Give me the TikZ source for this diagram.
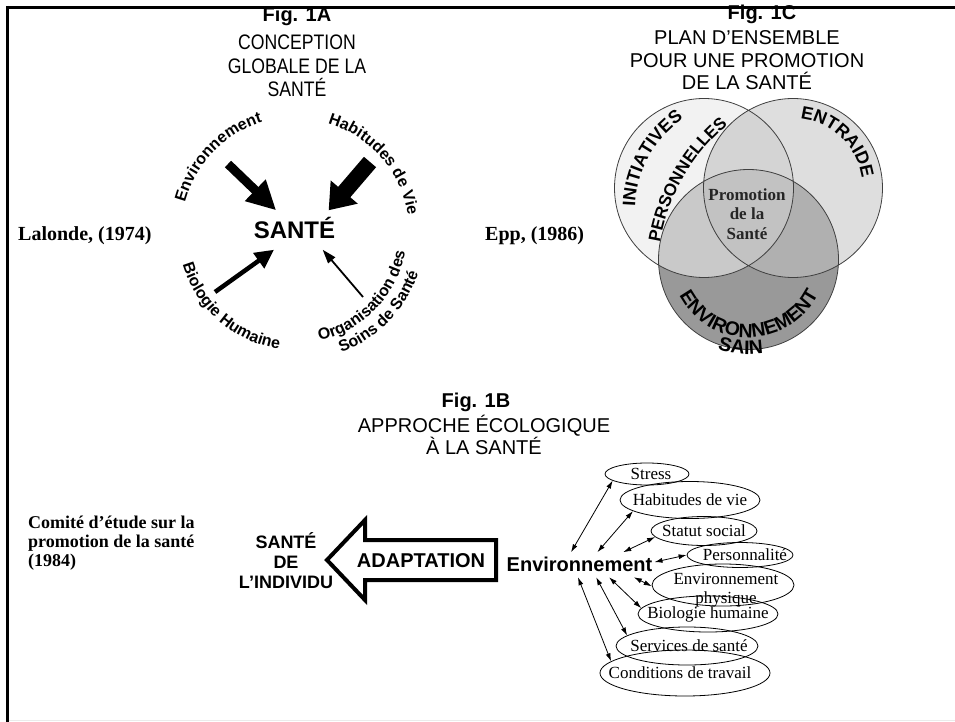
\documentclass[tikz,border=0pt]{standalone}
\usepackage{fontspec}
\setmainfont{Liberation Serif}
\setsansfont{Liberation Sans}
\newfontfamily\narrowsf[FakeStretch=0.84]{Liberation Sans}
\usetikzlibrary{arrows.meta,decorations.text,shapes.geometric}

\definecolor{vennL}{gray}{0.95}
\definecolor{vennR}{gray}{0.87}
\definecolor{vennLR}{gray}{0.83}
\definecolor{vennB}{gray}{0.60}
\definecolor{vennBL}{gray}{0.79}
\definecolor{vennBR}{gray}{0.69}
\definecolor{vennC}{gray}{0.76}

\newcommand\arcfont{\sffamily\bfseries\fontsize{16}{16}\selectfont}
\newcommand\vennfont{\sffamily\bfseries\fontsize{18}{18}\selectfont}
\newcommand\sainfont{\sffamily\bfseries\fontsize{19.5}{19.5}\selectfont}

\begin{document}
\begin{tikzpicture}[x=1pt,y=1pt,
  figtitle/.style={font=\sffamily\bfseries\fontsize{20}{20}\selectfont, anchor=base, inner sep=0pt},
  caption/.style={font=\sffamily\fontsize{20}{22.5}\selectfont, align=center, anchor=base, inner sep=0pt},
  source/.style={font=\bfseries\fontsize{20}{20}\selectfont, anchor=base west, inner sep=0pt},
  oval/.style={draw, ellipse, inner sep=0pt, line width=0.8pt},
  ovaltext/.style={font=\fontsize{17}{19}\selectfont, align=center, inner sep=0pt},
  link/.style={{Latex[length=8pt,width=5pt]}-{Latex[length=8pt,width=5pt]}, line width=0.8pt},
  arctext/.style={decorate, decoration={text along path, text align=center, text={#1}}}]
\useasboundingbox (0,0) rectangle (955,-722);

% frame
\draw[line width=3.3pt] (7.7,-6) -- (7.7,-722);
\draw[line width=2.5pt] (6,-7.5) -- (955,-7.5);
\draw[black!8, line width=1pt] (9,-720.5) -- (955,-720.5);

% Fig. 1A
\node[figtitle] (figA) at (297,-22) {Fig. 1A};
\node[caption, font=\narrowsf\fontsize{21}{23.5}\selectfont] (capA) at (297,-97) {CONCEPTION\\GLOBALE DE LA\\SANTÉ};
\node[source] (lalonde) at (18,-240) {Lalonde, (1974)};

\coordinate (ca) at (296,-232);
\node[font=\sffamily\bfseries\fontsize{24}{24}\selectfont, text height=17pt, text depth=0pt,
  inner xsep=0pt, inner ysep=11pt] (sante) at (294.5,-230) {SANTÉ};

\coordinate (envA) at (228,-164);
\coordinate (habA) at (370,-162);
\coordinate (bioA) at (215,-292);
\coordinate (orgA) at (363,-297);
\draw[line width=9pt, -{Triangle[length=29pt,width=28pt]}] (envA) -- (sante.133);
\draw[line width=16pt, -{Triangle[length=24pt,width=34pt]}] (habA) -- (sante.30);
\draw[line width=4.5pt, -{Triangle[length=19pt,width=18pt]}] (bioA) -- (sante.224);
\draw[line width=1.8pt, -{Triangle[length=14pt,width=9pt]}] (orgA) -- (sante.-35);

\path[arctext={|\arcfont|Environnement}] ([shift={(176:115)}]ca) arc[start angle=176, end angle=96, radius=115];
\path[arctext={|\arcfont|Habitudes de Vie}] ([shift={(80:113)}]ca) arc[start angle=80, end angle=2, radius=113];
\path[arctext={|\arcfont|Biologie Humaine}] ([shift={(190:118)}]ca) arc[start angle=190, end angle=268, radius=118];
\path[arctext={|\arcfont|Organisation des}] ([shift={(280:111)}]ca) arc[start angle=280, end angle=352, radius=111];
\path[arctext={|\arcfont|Soins de Santé}] ([shift={(284:129)}]ca) arc[start angle=284, end angle=348, radius=129];

% Fig. 1C
\node[figtitle] (figC) at (762,-20) {Fig. 1C};
\node[caption] (capC) at (747,-90) {PLAN D'ENSEMBLE\\POUR UNE PROMOTION\\DE LA SANTÉ};
\node[source] (epp) at (485,-240) {Epp, (1986)};

\coordinate (cL) at (704,-188);
\coordinate (cR) at (793,-188);
\coordinate (cB) at (748.5,-259.5);
\fill[vennL] (cL) circle[radius=89.5];
\fill[vennR] (cR) circle[radius=89.5];
\begin{scope}
  \clip (cL) circle[radius=89.5];
  \fill[vennLR] (cR) circle[radius=89.5];
\end{scope}
\fill[vennB] (cB) circle[radius=90];
\begin{scope}
  \clip (cB) circle[radius=90];
  \fill[vennBL] (cL) circle[radius=89.5];
  \fill[vennBR] (cR) circle[radius=89.5];
  \clip (cL) circle[radius=89.5];
  \fill[vennC] (cR) circle[radius=89.5];
\end{scope}
\draw[line width=0.8pt, black!75] (cL) circle[radius=89.5] (cR) circle[radius=89.5] (cB) circle[radius=90];

\path[arctext={|\vennfont|INITIATIVES}] ([shift={(185:110)}]745,-210) arc[start angle=185, end angle=117, radius=110];
\path[arctext={|\sffamily\bfseries\fontsize{17}{17}\selectfont|PERSONNELLES}] ([shift={(174:194.5)}]851.7,-274.7) arc[start angle=174, end angle=126, radius=194.5];
\path[arctext={|\vennfont|ENTRAIDE}] ([shift={(80:69.5)}]cR) arc[start angle=80, end angle=12, radius=69.5];
\path[arctext={|\sainfont|ENVIRONNEMENT}] ([shift={(200:78)}]cB) arc[start angle=200, end angle=341, radius=78];
\path[arctext={|\sainfont|SAIN}] ([shift={(240:95)}]cB) arc[start angle=240, end angle=290, radius=95];
\node[font=\bfseries\fontsize{17}{19.5}\selectfont, text=black!85, align=center, anchor=base, inner sep=0pt] (promo) at (747,-239) {Promotion\\de la\\Santé};

% Fig. 1B
\node[figtitle] (figB) at (476,-407) {Fig. 1B};
\node[caption] (capB) at (484,-454.5) {APPROCHE ÉCOLOGIQUE\\À LA SANTÉ};
\node[font=\bfseries\fontsize{18}{19}\selectfont, align=left, anchor=base west, inner sep=0pt] (comite) at (28,-566) {Comité d'étude sur la\\promotion de la santé\\(1984)};

\node[font=\sffamily\bfseries\fontsize{18}{20}\selectfont, align=center, anchor=base, inner sep=0pt] (indiv) at (286,-588) {SANTÉ\\DE\\L'INDIVIDU};
\draw[line width=4pt, line join=miter] (496,-540) -- (365,-540) -- (365,-520) -- (327,-560) -- (365,-600) -- (365,-580) -- (496,-580) -- cycle;
\node[font=\sffamily\bfseries\fontsize{20}{20}\selectfont, anchor=base, inner sep=0pt] (adapt) at (421,-567) {ADAPTATION};

\node[font=\sffamily\bfseries\fontsize{20}{20}\selectfont, inner xsep=2pt, inner ysep=5pt] (env) at (579.5,-564.7) {Environnement};

\node[oval, minimum width=84pt, minimum height=22pt] (stress) at (647,-474) {};
\node[oval, minimum width=140pt, minimum height=37pt] (habit) at (690,-500) {};
\node[oval, minimum width=106pt, minimum height=29pt] (statut) at (704,-531) {};
\node[oval, minimum width=106pt, minimum height=25pt] (perso) at (740,-555) {};
\node[oval, minimum width=142pt, minimum height=42pt] (envp) at (723,-585) {};
\node[oval, minimum width=140pt, minimum height=36pt] (bio) at (708,-614) {};
\node[oval, minimum width=142pt, minimum height=38pt] (serv) at (687,-646) {};
\node[oval, minimum width=170pt, minimum height=46pt] (cond) at (685,-673) {};

\node[ovaltext] (stresst) at (651,-474) {Stress};
\node[ovaltext] (habitt) at (habit) {Habitudes de vie};
\node[ovaltext] (statutt) at (statut) {Statut social};
\node[ovaltext] (persot) at (745,-555) {Personnalité};
\node[ovaltext] (envpt) at (726,-590) {Environnement\\physique};
\node[ovaltext] (biot) at (bio) {Biologie humaine};
\node[ovaltext] (servt) at (689,-646) {Services de santé};
\node[ovaltext] (condt) at (680,-673) {Conditions de travail};

\draw[link] (env.124) -- (stress.191);
\draw[link] (env.35) -- (habit.191);
\draw[link] (env.16) -- (statut.187);
\draw[link] (env.2) -- (perso.180);
\draw[link] (env.-13) -- (envp.181);
\draw[link] (env.-23) -- (bio.175);
\draw[link] (env.-37) -- (serv.170);
\draw[link] (env.-97) -- (cond.171);
\end{tikzpicture}
\end{document}
